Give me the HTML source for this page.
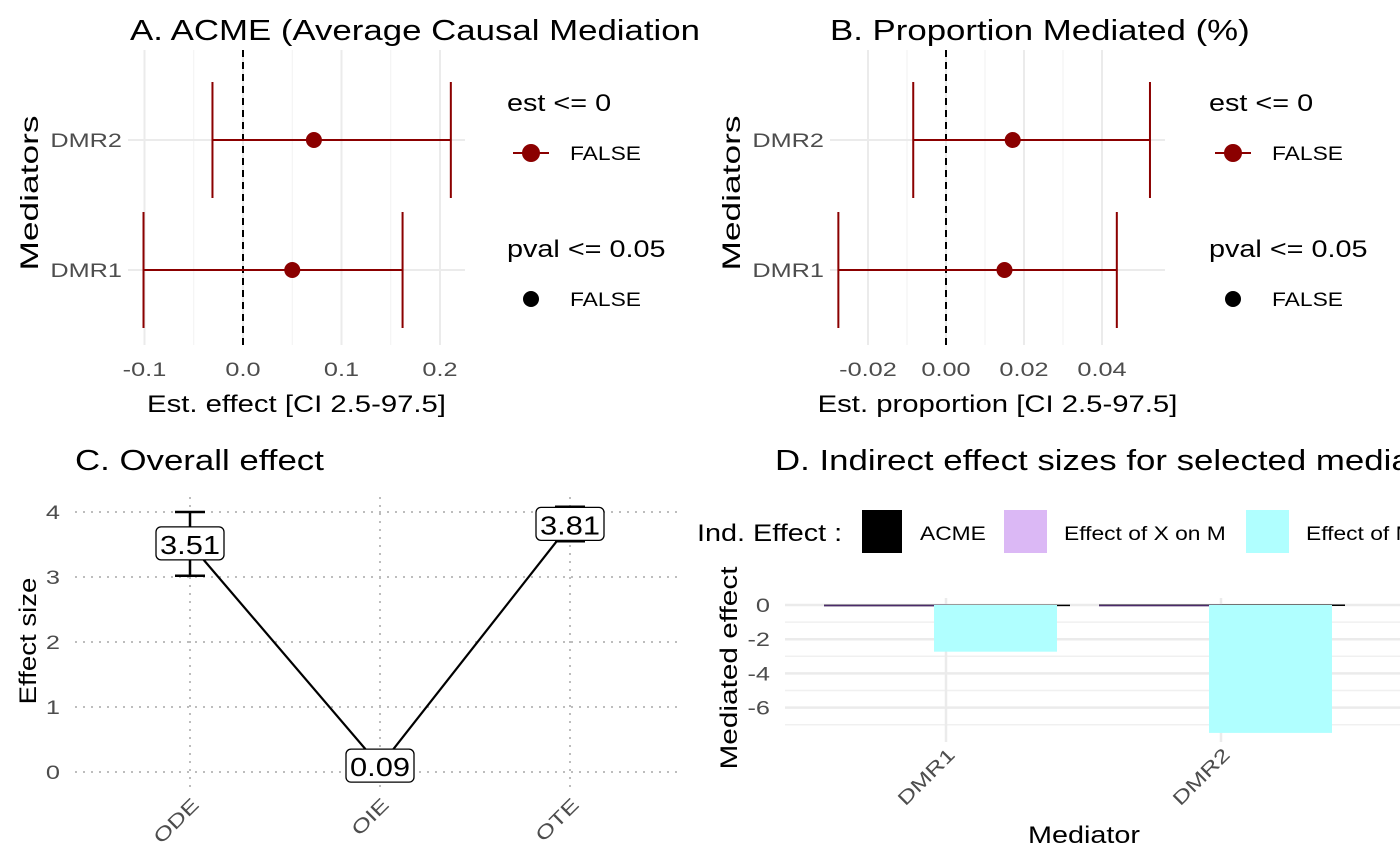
<!DOCTYPE html>
<html><head><meta charset="utf-8"><style>
body{margin:0;background:#fff}
svg{display:block;font-family:"Liberation Sans",sans-serif}
</style></head><body>
<svg id="c" width="1400" height="865" viewBox="0 0 1400 865">
<defs><clipPath id="clipA"><rect x="0" y="0" width="701" height="60"/></clipPath></defs>
</svg>
<script>
// Panel A data
const medNames=["DMR1","DMR2"];
const acmeEst=[0.05,0.072];
const acmeLo=[-0.101,-0.031];
const acmeHi=[0.162,0.211];
const acmeTicks=[-0.1,0,0.1,0.2];
const acmeTickLabels=["-0.1","0.0","0.1","0.2"];
// Panel B data
const propEst=[0.015,0.0171];
const propLo=[-0.0276,-0.0084];
const propHi=[0.0438,0.0523];
const propTicks=[-0.02,0,0.02,0.04];
const propTickLabels=["-0.02","0.00","0.02","0.04"];
// Panel C data
const effCats=["ODE","OIE","OTE"];
const effVals=[3.51,0.09,3.81];
const effLo=[3.02,null,3.55];
const effHi=[4.0,null,4.08];
const effTicks=[0,1,2,3,4];
// Panel D data
const dCats=["DMR1","DMR2"];
const dAcme=[0.02,0.03];
const dXonM=[0.01,0.01];
const dYonM=[-2.73,-7.48];
const dTicks=[0,-2,-4,-6];

const S=document.getElementById('c');
const NS='http://www.w3.org/2000/svg';
function el(t,a,txt){const e=document.createElementNS(NS,t);for(const k in a)e.setAttribute(k,a[k]);if(txt!==undefined)e.textContent=txt;S.appendChild(e);return e;}
function tick(a,txt){a['data-sx']='1.33';return el('text',a,txt);}

function forest(p){
  const X=v=>p.x0+(v-p.v0)*p.k;
  const Y=i=>[270,140][i];
  for(let i=0;i<p.ticks.length-1;i++){const m=(p.ticks[i]+p.ticks[i+1])/2;const g=el('line',{x1:X(m),x2:X(m),y1:50,y2:345,stroke:'#f2f2f2','stroke-width':1});}
  p.ticks.forEach((t,i)=>{
    const g=el('line',{x1:X(t),x2:X(t),y1:50,y2:345,stroke:'#ebebeb','stroke-width':2});
    
    const l=tick({x:X(t),y:376,'font-size':19,fill:'#4d4d4d','text-anchor':'middle'},p.labels[i]);
    
  });
  [0,1].forEach(i=>{el('line',{x1:p.left,x2:p.right,y1:Y(i),y2:Y(i),stroke:'#ebebeb','stroke-width':2});
    const l=tick({x:p.left-6,y:Y(i)+7,'font-size':19,fill:'#4d4d4d','text-anchor':'end'},medNames[i]);
    });
  el('line',{x1:X(0),x2:X(0),y1:50,y2:345,stroke:'#000','stroke-width':2,'stroke-dasharray':'7,5'});
  [0,1].forEach(i=>{
    const y=Y(i);
    const g=el('path',{d:`M${X(p.lo[i])},${y-58}V${y+58}M${X(p.lo[i])},${y}H${X(p.hi[i])}M${X(p.hi[i])},${y-58}V${y+58}`,stroke:'#8b0000','stroke-width':2,fill:'none'});
    
    const c=el('circle',{cx:X(p.est[i]),cy:y,r:8,fill:'#8b0000'});
    
  });
  const tt=el('text',{x:p.titleX,y:40,'font-size':29,fill:'#000','data-sx':'1.2'},p.title);
  if(p.clip)tt.setAttribute('clip-path','url(#clipA)');
  el('text',{x:(p.left+p.right)/2,y:412,'font-size':24,fill:'#000','text-anchor':'middle','data-sx':'1.22'},p.xtitle);
  el('text',{x:0,y:0,'font-size':25,fill:'#000','text-anchor':'middle',textLength:155,lengthAdjust:'spacingAndGlyphs',transform:`translate(${p.left-90},193) rotate(-90)`},'Mediators');
  const lx=p.legX;
  el('text',{x:lx,y:111,'font-size':24,'data-sx':'1.2'},'est <= 0');
  el('line',{x1:lx+6,x2:lx+42,y1:153,y2:153,stroke:'#8b0000','stroke-width':2});
  el('circle',{cx:lx+24,cy:153,r:9,fill:'#8b0000'});
  el('text',{x:lx+63,y:160,'font-size':19,'data-sx':'1.2'},'FALSE');
  el('text',{x:lx,y:257,'font-size':24,'data-sx':'1.2'},'pval <= 0.05');
  el('circle',{cx:lx+24,cy:299,r:8,fill:'#000'});
  el('text',{x:lx+63,y:306,'font-size':19,'data-sx':'1.2'},'FALSE');
}
forest({x0:243,v0:0,k:985,ticks:acmeTicks,labels:acmeTickLabels,left:128,right:465,est:acmeEst,lo:acmeLo,hi:acmeHi,title:'A. ACME (Average Causal Mediation Effect)',titleX:130,xtitle:'Est. effect [CI 2.5-97.5]',legX:507,clip:true});
forest({x0:946,v0:0,k:3900,ticks:propTicks,labels:propTickLabels,left:830,right:1165,est:propEst,lo:propLo,hi:propHi,title:'B. Proportion Mediated (%)',titleX:830,xtitle:'Est. proportion [CI 2.5-97.5]',legX:1209});

// ---- Panel C ----
{
  const Y=v=>772-v*65, X=i=>190+i*190;
  effTicks.forEach(t=>{el('line',{x1:75,x2:680,y1:Y(t),y2:Y(t),stroke:'#bdbdbd','stroke-width':2,'stroke-dasharray':'2,6'});
    tick({x:60,y:Y(t)+7,'font-size':19,fill:'#4d4d4d','text-anchor':'end'},String(t));});
  effCats.forEach((c,i)=>{el('line',{x1:X(i),x2:X(i),y1:497,y2:790,stroke:'#bdbdbd','stroke-width':2,'stroke-dasharray':'2,6'});
    tick({x:0,y:0,'font-size':19,fill:'#4d4d4d','text-anchor':'end',transform:`translate(${X(i)+10},806) rotate(-45)`},c);});
  const pts=effVals.map((v,i)=>X(i)+','+Y(v)).join(' ');
  el('polyline',{points:pts,fill:'none',stroke:'#000','stroke-width':2.2});
  effVals.forEach((v,i)=>{
    if(effLo[i]!==null){const g=el('path',{d:`M${X(i)-15},${Y(effHi[i])}h30M${X(i)},${Y(effHi[i])}V${Y(effLo[i])}M${X(i)-15},${Y(effLo[i])}h30`,stroke:'#000','stroke-width':2.5,fill:'none'});}
    el('rect',{x:X(i)-34,y:Y(v)-17,width:68,height:33,rx:5,fill:'#fff',stroke:'#000','stroke-width':1.3});
    el('text',{x:X(i),y:Y(v)+10,'font-size':26,'text-anchor':'middle',textLength:60,lengthAdjust:'spacingAndGlyphs'},v.toFixed(2));
  });
  el('text',{x:75,y:470,'font-size':29,'data-sx':'1.2'},'C. Overall effect');
  el('text',{x:0,y:0,'font-size':24,'text-anchor':'middle','data-sx':'1.15',transform:'translate(36,641) rotate(-90)'},'Effect size');
}

// ---- Panel D ----
{
  const Y=v=>605-v*17.1, X=i=>946+i*275;
  [-1,-3,-5,-7].forEach(t=>el('line',{x1:785,x2:1400,y1:Y(t),y2:Y(t),stroke:'#f0f0f0','stroke-width':1.5}));
  dTicks.forEach(t=>{el('line',{x1:785,x2:1400,y1:Y(t),y2:Y(t),stroke:'#ebebeb','stroke-width':2.5});
    tick({x:770,y:Y(t)+7,'font-size':19,fill:'#4d4d4d','text-anchor':'end'},String(t));});
  dCats.forEach((c,i)=>{el('line',{x1:X(i),x2:X(i),y1:598,y2:742,stroke:'#ebebeb','stroke-width':2.5});
    tick({x:0,y:0,'font-size':19,fill:'#4d4d4d','text-anchor':'end',transform:`translate(${X(i)+10},756) rotate(-45)`},c);
    const bar=(v,x0,w,fill,name)=>{const y1=Y(Math.max(v,0)),y2=Y(Math.min(v,0));const r=el('rect',{x:x0,y:y1,width:w,height:Math.max(y2-y1,1.5),fill});};
    bar(dAcme[i],X(i)-122,246,'#000','bar-acme');
    bar(dXonM[i],X(i)-122,123,'#4b2a6a','bar-x-on-m');
    bar(dYonM[i],X(i)-12,123,'#b0ffff','bar-y-on-m');
  });
  el('text',{x:775,y:470,'font-size':29,'data-sx':'1.2'},'D. Indirect effect sizes for selected mediators');
  el('text',{x:1084,y:843,'font-size':24,'text-anchor':'middle','data-sx':'1.2'},'Mediator');
  el('text',{x:0,y:0,'font-size':24,'text-anchor':'middle','data-sx':'1.24',transform:'translate(737,668) rotate(-90)'},'Mediated effect');
  el('text',{x:697,y:541,'font-size':24,'data-sx':'1.2'},'Ind. Effect :');
  el('rect',{x:862,y:510,width:40,height:43,fill:'#000'});
  el('text',{x:920,y:540,'font-size':19,'data-sx':'1.2'},'ACME');
  el('rect',{x:1004,y:510,width:43,height:43,fill:'#dbb8f5'});
  el('text',{x:1064,y:540,'font-size':19,'data-sx':'1.2'},'Effect of X on M');
  el('rect',{x:1246,y:510,width:43,height:43,fill:'#b0ffff'});
  el('text',{x:1306,y:540,'font-size':19,'data-sx':'1.2'},'Effect of M on Y');
}
// widen text to match reference font metrics
S.querySelectorAll('text[data-sx]').forEach(t=>{
  const f=parseFloat(t.getAttribute('data-sx'));
  const w=t.getComputedTextLength();
  t.setAttribute('textLength',(w*f).toFixed(1));
  t.setAttribute('lengthAdjust','spacingAndGlyphs');
});
</script>
</body></html>
